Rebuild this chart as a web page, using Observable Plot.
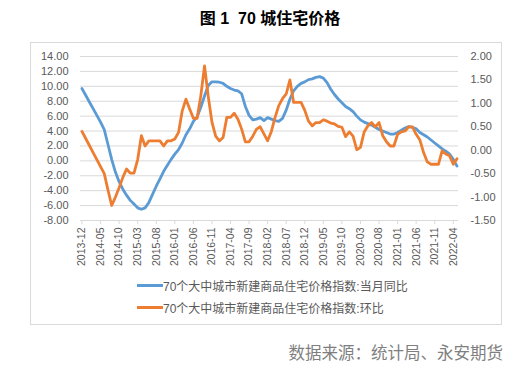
<!DOCTYPE html>
<html><head><meta charset="utf-8">
<script src="https://cdn.jsdelivr.net/npm/d3@7"></script>
<script src="https://cdn.jsdelivr.net/npm/@observablehq/plot@0.6"></script>
<style>
body{margin:0;background:#fff;}
#wrap{position:relative;width:526px;height:379px;overflow:hidden;font-family:"Liberation Sans","Noto Sans CJK SC",sans-serif;}
#chart{position:absolute;left:0;top:0;}
#chart svg{background:transparent;}
#title{position:absolute;left:0;width:540px;top:5px;text-align:center;font-weight:bold;font-size:16px;color:#000;white-space:pre;font-family:"Liberation Sans","Noto Sans CJK SC",sans-serif;}
#box{position:absolute;left:30px;top:42px;width:472px;height:283px;border:1px solid #d9d9d9;box-sizing:border-box;}
#legend{position:absolute;left:137px;top:274px;font-size:12px;color:#595959;font-family:"Liberation Sans","Noto Sans CJK SC",sans-serif;}
.item{display:flex;align-items:center;height:22px;}
.sw{width:26px;height:3px;}
#source{position:absolute;right:23px;top:340px;font-size:16.5px;color:#7f7f7f;font-family:"Noto Sans CJK SC",sans-serif;}
</style></head>
<body>
<div id="wrap">
  <div id="chart"></div>
  <div id="box"></div>
  <div id="title">图 1  70 城住宅价格</div>
  <div id="legend"></div>
  <div id="source">数据来源：统计局、永安期货</div>
</div>
<script>
// Monthly categories 2013-12 .. 2022-05
const months = d3.utcMonth.range(new Date(Date.UTC(2013, 11, 1)), new Date(Date.UTC(2022, 5, 1))).map(d3.utcFormat("%Y-%m"));

const xTickLabels = ["2013-12","2014-05","2014-10","2015-03","2015-08","2016-01","2016-06","2016-11","2017-04","2017-09","2018-02","2018-07","2018-12","2019-05","2019-10","2020-03","2020-08","2021-01","2021-06","2021-11","2022-04"];

const leftTicks = [-8,-6,-4,-2,0,2,4,6,8,10,12,14];
const rightTicks = [-1.5,-1,-0.5,0,0.5,1,1.5,2];

const seriesNames = ["70个大中城市新建商品住宅价格指数:当月同比","70个大中城市新建商品住宅价格指数:环比"];
const seriesColors = ["#5b9bd5","#ed7d31"];

// 当月同比 (left axis)
const yoy = [
  9.7, 8.8, 7.9, 7.0, 6.1, 5.2, 4.2, 2.2, 0.2, -1.5,
  -2.8, -3.8, -4.6, -5.3, -5.8, -6.3, -6.5, -6.3, -5.6, -4.5,
  -3.4, -2.4, -1.4, -0.6, 0.2, 0.9, 1.5, 2.4, 3.5, 4.3,
  5.3, 5.9, 7.2, 8.7, 10.1, 10.6, 10.6, 10.55, 10.4, 10.0,
  9.7, 9.5, 9.4, 9.0, 7.3, 6.1, 5.5, 5.6, 5.8, 5.4,
  5.8, 5.6, 5.4, 5.3, 5.7, 6.8, 8.3, 9.4, 10.0, 10.4,
  10.6, 10.9, 11.0, 11.2, 11.3, 11.1, 10.5, 9.6, 8.9, 8.3,
  7.8, 7.3, 7.0, 6.6, 6.0, 5.5, 5.2, 5.0, 4.8, 4.5,
  4.2, 4.0, 3.8, 3.6, 3.6, 3.8, 4.1, 4.4, 4.6, 4.5,
  4.3, 3.8, 3.5, 3.2, 2.8, 2.4, 2.0, 1.6, 1.3, 0.9,
  0.2, -0.7
];

// 环比 (right axis)
const mom = [
  0.40, 0.25, 0.10, -0.05, -0.20, -0.35, -0.50, -0.85, -1.18, -1.00,
  -0.80, -0.58, -0.40, -0.49, -0.49, -0.20, 0.31, 0.09, 0.20, 0.20,
  0.20, 0.20, 0.09, 0.20, 0.20, 0.24, 0.38, 0.84, 1.09, 0.88,
  0.68, 0.68, 1.16, 1.80, 1.15, 0.60, 0.30, 0.20, 0.27, 0.70,
  0.70, 0.79, 0.66, 0.45, 0.18, 0.18, 0.30, 0.45, 0.50, 0.35,
  0.20, 0.40, 0.70, 0.95, 1.10, 1.20, 1.50, 1.02, 1.02, 1.02,
  0.85, 0.62, 0.52, 0.59, 0.59, 0.65, 0.62, 0.58, 0.56, 0.51,
  0.49, 0.29, 0.39, 0.30, 0.01, 0.06, 0.39, 0.52, 0.59, 0.50,
  0.59, 0.31, 0.18, 0.09, 0.09, 0.34, 0.39, 0.41, 0.50, 0.50,
  0.34, 0.22, -0.05, -0.25, -0.30, -0.30, -0.30, -0.01, -0.08, -0.12,
  -0.30, -0.18
];

// map right-axis values onto the left scale domain
const toLeft = d3.scaleLinear([-1.5, 2], [-8, 14]);
const fmt = v => { const r = Math.round(v * 100) / 100; return (Math.abs(r) < 1e-9 ? 0 : r).toFixed(2); };

const yoyData = months.map((m, i) => ({m, v: yoy[i]}));
const momData = months.map((m, i) => ({m, v: toLeft(mom[i])}));

const chart = Plot.plot({
  width: 526,
  height: 270,
  marginLeft: 80,
  marginRight: 68,
  marginTop: 56,
  marginBottom: 50,
  style: {background: "transparent", fontFamily: "'Liberation Sans', sans-serif", fontSize: "11px", color: "#595959"},
  x: {type: "point", domain: months, padding: 0.4, label: null},
  y: {domain: [-8, 14], label: null},
  marks: [
    Plot.gridY(leftTicks.filter(d => d > -8), {stroke: "#d9d9d9", strokeOpacity: 1}),
    Plot.ruleY([-8], {stroke: "#d9d9d9"}),
    Plot.axisY(leftTicks, {anchor: "left", tickSize: 0, tickPadding: 12, tickFormat: d => d.toFixed(2), fill: "#595959", label: null}),
    Plot.axisY(rightTicks.map(toLeft), {anchor: "right", tickSize: 0, tickPadding: 12, tickFormat: d => fmt(toLeft.invert(d)), fill: "#595959", label: null}),
    Plot.axisX(xTickLabels, {tickRotate: -90, tickSize: 4, tickPadding: 3, stroke: "#d9d9d9", fill: "#595959", fontSize: 10.5, label: null}),
    Plot.line(yoyData, {x: "m", y: "v", stroke: seriesColors[0], strokeWidth: 2.8}),
    Plot.line(momData, {x: "m", y: "v", stroke: seriesColors[1], strokeWidth: 2.8})
  ]
});
document.getElementById("chart").appendChild(chart);

const legend = document.getElementById("legend");
seriesNames.forEach((name, i) => {
  const row = document.createElement("div");
  row.className = "item";
  const sw = document.createElement("span");
  sw.className = "sw";
  sw.style.background = seriesColors[i];
  const t = document.createElement("span");
  t.textContent = name;
  row.appendChild(sw);
  row.appendChild(t);
  legend.appendChild(row);
});
</script>
</body></html>
